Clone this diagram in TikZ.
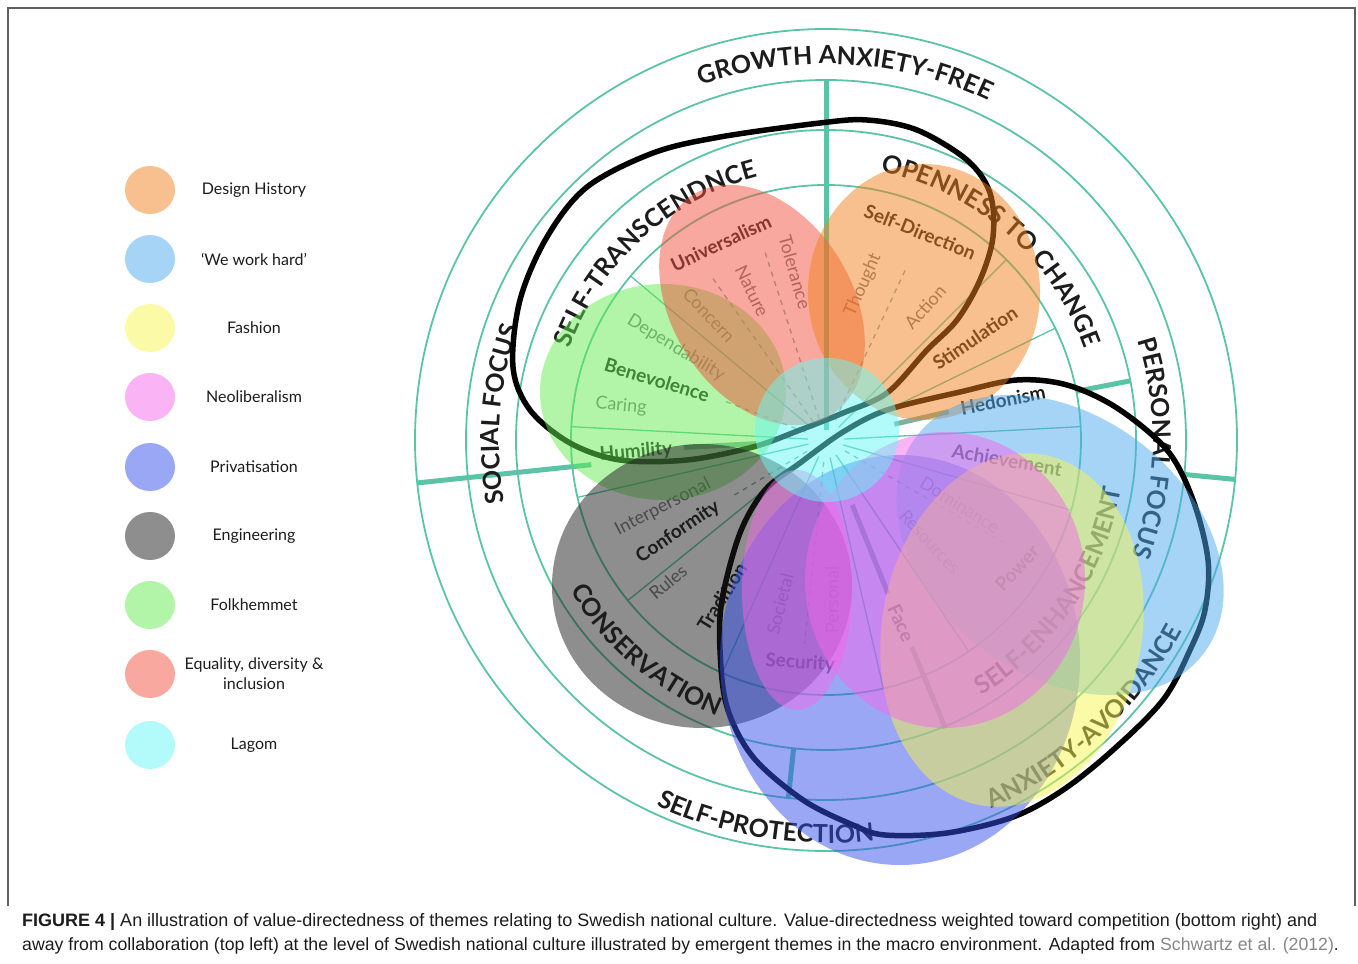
\documentclass[tikz,border=0pt]{standalone}
\usepackage{fontspec}
\setmainfont{Lato}
\newfontfamily\capfont{Liberation Sans}
\usetikzlibrary{decorations.text}
\definecolor{ringc}{RGB}{92,196,166}
\definecolor{spokec}{RGB}{125,178,160}
\definecolor{cOrange}{RGB}{241,129,31}
\definecolor{cLBlue}{RGB}{77,169,239}
\definecolor{cYellow}{RGB}{247,245,77}
\definecolor{cPink}{RGB}{245,103,235}
\definecolor{cPriv}{RGB}{53,79,235}
\definecolor{cGray}{RGB}{29,29,29}
\definecolor{cGreen}{RGB}{101,235,81}
\definecolor{cSalmon}{RGB}{241,81,61}
\definecolor{cCyan}{RGB}{103,247,245}
\definecolor{txtdark}{RGB}{28,28,28}
\definecolor{subtxt}{RGB}{120,120,120}
\definecolor{framec}{RGB}{95,95,95}
\definecolor{capgray}{RGB}{135,135,135}
\tikzset{
  ring/.style={draw=ringc, line width=1.8pt},
  thickspoke/.style={draw=ringc, line width=5pt},
  innerspoke/.style={draw=spokec, line width=5pt},
  thinspoke/.style={draw=ringc, line width=1.3pt},
  dashspoke/.style={draw=spokec, line width=1.3pt, dash pattern=on 5pt off 5pt},
  blob/.style={fill=#1, fill opacity=0.5, draw=none},
  loopline/.style={draw=black, line width=5.5pt, line join=round, line cap=round},
  valtext/.style={font=\bfseries\fontsize{19}{19}\selectfont, text=txtdark, inner sep=0pt},
  subtext/.style={font=\fontsize{18}{18}\selectfont, text=subtxt, inner sep=0pt},
  legtext/.style={font=\fontsize{16}{20}\selectfont, text=txtdark, align=center, inner sep=0pt},
  captext/.style={text=txtdark, inner sep=0pt, anchor=base west},
}
\newcommand{\ArcText}[4]{\path[decorate,decoration={text along path,text align=center,text color=txtdark,text={|\bfseries\fontsize{25}{25}\selectfont|#4}}] (#2:#1) arc[start angle=#2,end angle=#3,radius=#1];}
\begin{document}
\begin{tikzpicture}[x=1pt,y=1pt]
\useasboundingbox (0,0) rectangle (1358,964);
% frame
\draw[framec, line width=1.4pt] (8,58) -- (8,956) -- (1355,956) -- (1355,58);

% legend
\fill[blob=cOrange] (150,774) ellipse[x radius=25,y radius=24];
\fill[blob=cLBlue] (150,705) ellipse[x radius=25,y radius=24];
\fill[blob=cYellow] (150,636) ellipse[x radius=25,y radius=24];
\fill[blob=cPink] (150,567) ellipse[x radius=25,y radius=24];
\fill[blob=cPriv] (150,497) ellipse[x radius=25,y radius=24];
\fill[blob=cGray] (150,428) ellipse[x radius=25,y radius=24];
\fill[blob=cGreen] (150,359) ellipse[x radius=25,y radius=24];
\fill[blob=cSalmon] (150,290) ellipse[x radius=25,y radius=24];
\fill[blob=cCyan] (150,219) ellipse[x radius=25,y radius=24];
\node[legtext] (lg1) at (254,774) {Design History};
\node[legtext] (lg2) at (254,705) {‘We work hard’};
\node[legtext] (lg3) at (254,636) {Fashion};
\node[legtext] (lg4) at (254,567) {Neoliberalism};
\node[legtext] (lg5) at (254,497) {Privatisation};
\node[legtext] (lg6) at (254,428) {Engineering};
\node[legtext] (lg7) at (254,359) {Folkhemmet};
\node[legtext] (lg8) at (254,290) {Equality, diversity \&\\inclusion};
\node[legtext] (lg9) at (254,219) {Lagom};

% caption
\node[captext, font=\capfont\fontsize{18}{20}\selectfont] (cap1) at (22,37) {\bfseries FIGURE 4 |\mdseries{} An illustration of value-directedness of themes relating to Swedish national culture. Value-directedness weighted toward competition (bottom right) and};
\node[captext, font=\capfont\fontsize{17.7}{20}\selectfont] (cap2) at (22,13) {away from collaboration (top left) at the level of Swedish national culture illustrated by emergent themes in the macro environment. Adapted from \textcolor{capgray}{Schwartz et al. (2012)}.};

\begin{scope}[shift={(826,524)}]
% rings
\foreach \r in {411,360,310,255} \draw[ring] (0,0) circle[radius=\r];
% thick spokes
\draw[thickspoke] (90:10) -- (90:360);
\draw[thickspoke] (186:236) -- (186:411);
\draw[thickspoke] (-5.5:360) -- (-5.5:411);
\draw[thickspoke] (264:310) -- (264:360);
\draw[thickspoke] (11:255) -- (11:310);
\draw[innerspoke] (183:70) -- (183:142);
\draw[innerspoke] (13:70) -- (13:126);
\draw[innerspoke] (-68:70) -- (-68:166);
\draw[innerspoke] (-67.5:224) -- (-67.5:312);
% thin spokes
\foreach \a in {45,26,3,-16,-56,-77,-114,219,193,177,140}
  \draw[thinspoke] (\a:18) -- (\a:255);
% dashed sub-value lines
\foreach \a/\r in {65/190,125/200,108/200,159/110,-30/205,-96/205,211/112}
  \draw[dashspoke] (\a:22) -- (\a:\r);

% value names
\node[valtext, rotate=-22] (sd) at (94,208) {Self-Direction};
\node[valtext, rotate=34] (st) at (149,102) {Stimulation};
\node[valtext, rotate=11] (he) at (177,40) {Hedonism};
\node[valtext, rotate=-10] (ac) at (181,-20) {Achievement};
\node[valtext, rotate=47] (po) at (191,-128) {Power};
\node[valtext, rotate=-65] (fa) at (75,-183) {Face};
\node[valtext, rotate=-4] (se) at (-26,-223) {Security};
\node[valtext, rotate=58] (tr) at (-104,-157) {Tradition};
\node[valtext, rotate=34] (co) at (-148,-92) {Conformity};
\node[valtext, rotate=5] (hu) at (-190,-12) {Humility};
\node[valtext, rotate=-17] (be) at (-169,60) {Benevolence};
\node[valtext, rotate=25] (un) at (-105,197) {Universalism};
% sub-values
\node[subtext, rotate=66] (th) at (37,155) {Thought};
\node[subtext, rotate=48] (act) at (99,133) {Action};
\node[subtext, rotate=-74] (tol) at (-31,168) {Tolerance};
\node[subtext, rotate=-64] (nat) at (-74,149) {Nature};
\node[subtext, rotate=-47] (con) at (-117,125) {Concern};
\node[subtext, rotate=-31] (dep) at (-150,92) {Dependability};
\node[subtext, rotate=-5] (car) at (-205,34) {Caring};
\node[subtext, rotate=27] (int) at (-163,-67) {Interpersonal};
\node[subtext, rotate=40] (rul) at (-158,-142) {Rules};
\node[subtext, rotate=76] (soc) at (-46,-164) {Societal};
\node[subtext, rotate=90] (per) at (6,-160) {Personal};
\node[subtext, rotate=-32] (dom) at (134,-65) {Dominance};
\node[subtext, rotate=-47] (res) at (104,-102) {Resources};

% ring labels
\ArcText{376}{132}{42}{GROWTH ANXIETY-FREE}
\ArcText{272}{180}{85}{SELF-TRANSCENDNCE}
\ArcText{274}{95}{3}{OPENNESS TO CHANGE}
\ArcText{327}{215}{136}{SOCIAL FOCUS}
\ArcText{327}{40}{-43}{PERSONAL FOCUS}
\ArcText{403}{230}{292}{SELF-PROTECTION}
\ArcText{404}{282}{344}{ANXIETY-AVOIDANCE}
\ArcText{299}{-70}{2}{SELF-ENHANCEMENT}
\ArcText{297}{195}{264}{CONSERVATION}

% black loops
\draw[loopline] plot[smooth cycle, tension=0.55] coordinates {
 (61,47) (101,90) (131,120) (154,160) (167,203) (164,247) (141,280) (91,310)
 (41,320) (-6,317) (-106,303) (-173,287) (-239,253) (-279,203) (-306,140)
 (-313,73) (-296,30) (-256,-3) (-206,-20) (-139,-20) (-73,-7) (-26,10) (17,27)};
\draw[loopline] plot[smooth cycle, tension=0.55] coordinates {
 (-26,-23) (17,8) (61,30) (134,48) (191,60) (241,55) (291,32) (341,-10)
 (367,-60) (382,-120) (379,-170) (364,-210) (337,-260) (287,-310) (237,-350)
 (187,-377) (121,-393) (59,-395) (27,-385) (-23,-360) (-73,-317) (-99,-267)
 (-106,-210) (-104,-160) (-86,-93) (-61,-50)};

% translucent theme blobs
\fill[blob=cGreen] (-163,48) ellipse[x radius=123,y radius=108];
\fill[blob=cGray] (-124,-146) ellipse[x radius=150,y radius=142];
\fill[blob=cSalmon, rotate around={-58:(-64,135)}] (-64,135) ellipse[x radius=130,y radius=90];
\fill[blob=cOrange] (98,148) ellipse[x radius=116,y radius=128];
\fill[blob=cPriv] (74,-220) ellipse[x radius=180,y radius=205];
\fill[blob=cLBlue, rotate around={-37:(234,-105)}] (234,-105) ellipse[x radius=180,y radius=130];
\fill[blob=cYellow, rotate around={-10:(186,-190)}] (186,-190) ellipse[x radius=130,y radius=178];
\fill[blob=cPink] (119,-140) ellipse[x radius=140,y radius=148];
\fill[blob=cPink] (-29,-150) ellipse[x radius=55,y radius=120];
\fill[blob=cCyan] (1,10) circle[radius=72];
\end{scope}
\end{tikzpicture}
\end{document}
